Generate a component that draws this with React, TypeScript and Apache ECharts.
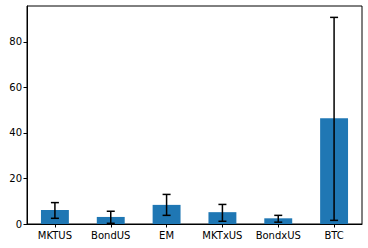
import React, { useEffect, useRef } from "react";
import * as echarts from "echarts";

const categories = ["MKTUS", "BondUS", "EM", "MKTxUS", "BondxUS", "BTC"];
const means = [6.1, 3.1, 8.4, 5.2, 2.5, 46.5];
const errLow = [2.5, 0.3, 3.8, 1.2, 0.8, 1.6];
const errHigh = [9.4, 5.6, 13.0, 8.6, 3.8, 90.8];
const yTicks = [0, 20, 40, 60, 80];

export default function App() {
  const ref = useRef<HTMLDivElement>(null);
  useEffect(() => {
    if (!ref.current) return;
    const chart = echarts.init(ref.current, undefined, { renderer: "svg" });
    const font = "DejaVu Sans";
    chart.setOption({
      animation: false,
      grid: {
        left: 27,
        right: 6,
        top: 6,
        bottom: 24,
        show: true,
        borderColor: "#000",
        borderWidth: 1,
        backgroundColor: "transparent",
      },
      xAxis: {
        type: "category",
        data: categories,
        boundaryGap: true,
        axisLine: { show: true, lineStyle: { color: "#000", width: 1 } },
        axisTick: { show: true, alignWithLabel: true, length: 3.5, lineStyle: { color: "#000" } },
        axisLabel: { color: "#000", fontFamily: font, fontSize: 10, margin: 6, interval: 0 },
        splitLine: { show: false },
      },
      yAxis: {
        type: "value",
        min: 0,
        max: 95.8,
        interval: 20,
        axisLine: { show: true, lineStyle: { color: "#000", width: 1 } },
        axisTick: { show: true, length: 3.5, lineStyle: { color: "#000" }, customValues: yTicks },
        axisLabel: { color: "#000", fontFamily: font, fontSize: 10, margin: 5, customValues: yTicks },
        splitLine: { show: false },
      },
      series: [
        {
          type: "bar",
          data: means,
          barWidth: "50%",
          itemStyle: { color: "#1f77b4" },
        },
        {
          type: "custom",
          data: categories.map((_, i) => [i, errLow[i], errHigh[i]]),
          z: 10,
          renderItem: (params: any, api: any) => {
            const x = api.value(0);
            const lo = api.coord([x, api.value(1)]);
            const hi = api.coord([x, api.value(2)]);
            const cap = 4;
            const style = { stroke: "#000", lineWidth: 1.5 };
            return {
              type: "group",
              children: [
                { type: "line", shape: { x1: lo[0], y1: lo[1], x2: hi[0], y2: hi[1] }, style },
                { type: "line", shape: { x1: lo[0] - cap, y1: lo[1], x2: lo[0] + cap, y2: lo[1] }, style },
                { type: "line", shape: { x1: hi[0] - cap, y1: hi[1], x2: hi[0] + cap, y2: hi[1] }, style },
              ],
            };
          },
        },
      ],
    });
    return () => chart.dispose();
  }, []);
  return <div ref={ref} style={{ width: 368, height: 248, position: "absolute", left: 0, top: 0 }} />;
}
